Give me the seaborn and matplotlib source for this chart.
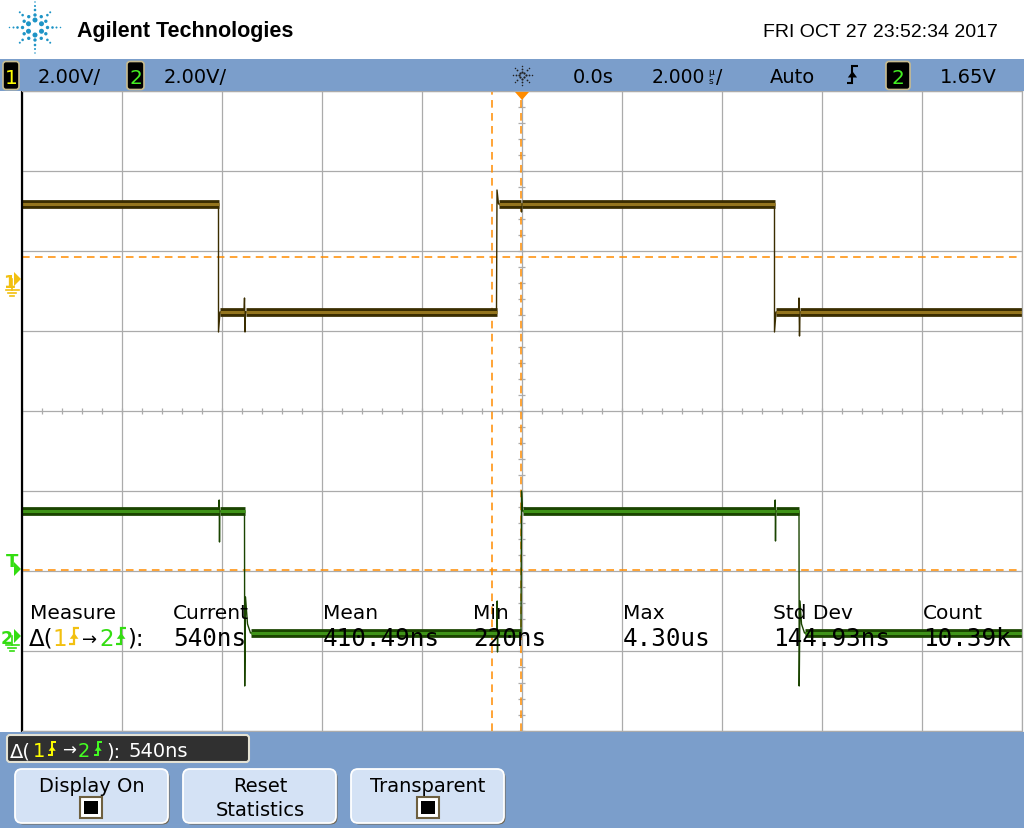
import numpy as np
import pandas as pd
import matplotlib
matplotlib.use("Agg")
import matplotlib.pyplot as plt
from matplotlib.patches import Rectangle, FancyBboxPatch, Polygon
import seaborn as sns

# ---- scope settings ----
volts_per_div = 2.0
us_per_div = 2.0
ch1_ground_div = 1.625      # ground marker of channel 1, in divisions from centre
ch2_ground_div = -2.8125    # ground marker of channel 2
ch1_cursor_v = 0.6          # horizontal cursor on channel 1 (V)
trig_level_v = 1.65         # trigger level on channel 2 (V)
cursor_t = [-0.59, -0.02]   # vertical cursors (us)

# ---- traces: time (us) / volts relative to the channel ground ----
ch1_t = [-10.02, -6.06, -6.06, -6.03, -5.55, -5.54, -5.53, -5.52, -0.50, -0.49, -0.46,
         -0.01, 0.0, 0.01, 5.06, 5.06, 5.09, 5.54, 5.55, 5.56, 5.57, 10.0]
ch1_v = [1.925, 1.925, -1.275, -0.775, -0.775, -0.425, -1.275, -0.775, -0.775, 2.275, 1.925,
         1.925, 1.725, 1.925, 1.925, -1.275, -0.775, -0.775, -0.425, -1.375, -0.775, -0.775]

ch2_t = [-10.02, -6.05, -6.046, -6.04, -6.034, -5.54, -5.536, -5.52, -5.48, -5.42, -0.49,
         -0.486, -0.48, -0.474, -0.01, 0.0, 0.02, 5.07, 5.074, 5.08, 5.086, 5.55, 5.554,
         5.57, 5.60, 5.66, 10.0]
ch2_v = [3.125, 3.125, 3.4, 2.35, 3.125, 3.125, -1.25, 0.975, 0.3, 0.075, 0.075,
         0.875, -0.4, 0.075, 0.075, 3.625, 3.125, 3.125, 3.4, 2.375, 3.125, 3.125, -1.25,
         0.875, 0.3, 0.075, 0.075]

# ---- measurement readout ----
meas_labels = ["Measure", "Current", "Mean", "Min", "Max", "Std Dev", "Count"]
meas_values = ["540ns", "410.49ns", "220ns", "4.30us", "144.93ns", "10.39k"]
meas_x = [30, 173, 323, 473, 623, 773, 923]

W, H = 1024, 829
BAR = '#7b9ecb'
YEL = '#f2c010'
GRN = '#33dd11'
ORANGE = '#ff8c00'

fig = plt.figure(figsize=(W / 100, H / 100), dpi=100)
fig.patch.set_facecolor('white')

# ---- main screen ----
x0, x1, y0, y1 = 21.5, 1021.5, 92, 732
ax = fig.add_axes([x0 / W, 1 - y1 / H, (x1 - x0) / W, (y1 - y0) / H])
ax.set_xlim(-5 * us_per_div, 5 * us_per_div)
ax.set_ylim(-4, 4)
ax.set_xticks(np.arange(-10, 10.01, us_per_div))
ax.set_yticks(np.arange(-4, 4.01, 1))
ax.grid(True, color='#ababab', lw=0.9)
ax.set_axisbelow(True)
ax.tick_params(length=0, labelbottom=False, labelleft=False)
for s in ['top', 'right', 'bottom']:
    ax.spines[s].set_color('#ababab')
    ax.spines[s].set_linewidth(0.9)
ax.spines['left'].set_color('black')
ax.spines['left'].set_linewidth(1.6)

# centre-line minor ticks
mt = np.arange(-10, 10.01, us_per_div / 5)
ax.vlines(mt, -0.035, 0.035, color='#ababab', lw=0.9)
mv = np.arange(-4, 4.01, 0.2)
ax.hlines(mv, -0.07, 0.07, color='#ababab', lw=0.9)

# cursors
for ct in cursor_t:
    ax.axvline(ct, color=ORANGE, lw=1.1, dashes=(5, 3.5))
ax.axhline(ch1_ground_div + ch1_cursor_v / volts_per_div, color=ORANGE, lw=1.1, dashes=(5, 3.5))
ax.axhline(ch2_ground_div + trig_level_v / volts_per_div, color=ORANGE, lw=1.1, dashes=(5, 3.5))


def trace_frame(t, v, ground):
    return pd.DataFrame({'t': t, 'y': ground + np.asarray(v) / volts_per_div})


def band_frame(df):
    rows = []
    seg = 0
    for i in range(len(df) - 1):
        if df.y[i] == df.y[i + 1] and df.t[i + 1] - df.t[i] > 0.2:
            rows += [(seg, df.t[i], df.y[i]), (seg, df.t[i + 1], df.y[i + 1])]
            seg += 1
    return pd.DataFrame(rows, columns=['seg', 't', 'y'])


for t, v, g, dark, light in [(ch1_t, ch1_v, ch1_ground_div, '#3a2d00', '#94751e'),
                             (ch2_t, ch2_v, ch2_ground_div, '#1a4400', '#3f9418')]:
    df = trace_frame(t, v, g)
    sns.lineplot(data=df, x='t', y='y', sort=False, estimator=None, color=dark,
                 lw=1.0, ax=ax, legend=False)
    bd = band_frame(df)
    sns.lineplot(data=bd, x='t', y='y', units='seg', sort=False, estimator=None,
                 color=dark, lw=6.3, solid_capstyle='butt', ax=ax, legend=False)
    sns.lineplot(data=bd, x='t', y='y', units='seg', sort=False, estimator=None,
                 color=light, lw=2.2, solid_capstyle='butt', ax=ax, legend=False)
ax.set_xlabel('')
ax.set_ylabel('')

# ---- overlay in pixel coordinates ----
ov = fig.add_axes([0, 0, 1, 1])
ov.set_xlim(0, W)
ov.set_ylim(H, 0)
ov.axis('off')


def txt(x, y, s, size=14, color='black', ha='left', va='baseline', family='DejaVu Sans',
        weight='normal', **kw):
    ov.text(x, y, s, fontsize=size, color=color, ha=ha, va=va, family=family,
            fontweight=weight, **kw)


def edge_icon(x, ytop, ybot, color, lw=1.6):
    w = (ybot - ytop) * 0.32
    xm = x + w
    ov.plot([x, xm, xm, xm + w], [ybot, ybot, ytop, ytop], color=color, lw=lw,
            solid_joinstyle='miter', solid_capstyle='butt')
    ym = (ytop + ybot) / 2
    ov.add_patch(Polygon([[xm - w * 0.85, ym + w * 0.55], [xm + w * 0.85, ym + w * 0.55],
                          [xm, ym - w * 0.6]], closed=True, color=color, lw=0))


# logo
cx, cy = 35, 28.5
pts = []
for k in range(6):
    a = np.deg2rad(90 + 60 * k)
    pts.append((cx + 7.5 * np.cos(a), cy - 7.5 * np.sin(a), 5.0))
for k in range(12):
    a = np.deg2rad(30 * k)
    pts.append((cx + 12.5 * np.cos(a), cy - 12.5 * np.sin(a), 3.4))
for k in range(8):
    a = np.deg2rad(45 * k)
    radii = [17.5, 21.5, 25.5] if k % 2 == 0 else [17.5, 21.5]
    for r, d in zip(radii, [2.6, 2.0, 1.5]):
        pts.append((cx + r * np.cos(a), cy - r * np.sin(a), d))
pts = np.array(pts)
ov.scatter(pts[:, 0], pts[:, 1], s=(pts[:, 2] * 0.72) ** 2, color='#1e94c6', lw=0)
txt(77, 37, 'Agilent Technologies', size=15.5, family='Liberation Sans', weight='bold')
txt(998, 37, 'FRI OCT 27 23:52:34 2017', size=14, ha='right', family='Liberation Sans')

# header bar
ov.add_patch(Rectangle((0, 60), W, 32, color=BAR, lw=0))
for bx, bw, label, col in [(3, 16, '1', '#ffff00'), (127, 17, '2', '#44ee22'), (886, 24, '2', '#44ee22')]:
    ov.add_patch(FancyBboxPatch((bx, 62.5), bw, 28, boxstyle='round,pad=0,rounding_size=3',
                                fc='black', ec='#c8bc90', lw=1.2))
    txt(bx + bw / 2, 84, label, size=14.5, color=col, ha='center')
txt(38, 83, '2.00V/')
txt(164, 83, '2.00V/')
# run/stop spark
for k in range(8):
    a = np.deg2rad(45 * k)
    for r, d in [(3.5, 2.2), (6.5, 1.8), (9.5, 1.5)]:
        ov.scatter(522 + r * np.cos(a), 76 - r * np.sin(a), s=(d * 0.72) ** 2, color='#222222', lw=0)
txt(573, 83, '0.0s')
txt(652, 83, '2.000', size=13.5)
txt(711, 77, 'µ\ns', size=6.5, ha='center', va='center', linespacing=0.95)
txt(716, 83, '/', size=13.5)
txt(770, 83, 'Auto')
edge_icon(847, 67, 84, 'black', lw=1.5)
txt(940, 83, '1.65V')

# trigger position marker
ov.add_patch(Polygon([[515, 93], [529, 93], [522, 101]], closed=True, color=ORANGE, lw=0))

# left side markers
ov.text(3, 287.5, '1', fontsize=12.5, color=YEL, family='DejaVu Sans', fontweight='bold')
ov.add_patch(Polygon([[14, 273], [14, 287], [21, 280]], closed=True, color=YEL, lw=0))
ov.plot([12, 12], [280, 291], color=YEL, lw=1.2)
for yy, hw in [(291, 6.5), (294, 4), (297, 1.8)]:
    ov.plot([12 - hw, 12 + hw], [yy, yy], color=YEL, lw=1.2)

ov.text(6, 567, 'T', fontsize=13, color=GRN, family='DejaVu Sans', fontweight='bold')
ov.add_patch(Polygon([[14, 563], [14, 577], [21, 570]], closed=True, color=GRN, lw=0))

ov.text(1, 644, '2', fontsize=12.5, color=GRN, family='DejaVu Sans', fontweight='bold')
ov.add_patch(Polygon([[14, 630], [14, 644], [21, 637]], closed=True, color=GRN, lw=0))
ov.plot([12, 12], [637, 646], color=GRN, lw=1.2)
for yy, hw in [(646, 6.5), (649, 4), (652, 1.8)]:
    ov.plot([12 - hw, 12 + hw], [yy, yy], color=GRN, lw=1.2)

# measurement readout
for x, lab in zip(meas_x, meas_labels):
    txt(x, 619, lab, size=14.5)
for x, val in zip(meas_x[1:], meas_values):
    txt(x, 646, val, size=17.5, family='DejaVu Sans Mono')
txt(29, 646, 'Δ(', size=16.5)
txt(52, 646, '1', size=16.5, color=YEL)
edge_icon(69, 629, 645, YEL)
txt(82, 645, '→', size=13)
txt(99, 646, '2', size=16.5, color=GRN)
edge_icon(116, 629, 645, GRN)
txt(127, 646, '):', size=16.5)

# bottom bar
ov.add_patch(Rectangle((0, 733), W, 96, color=BAR, lw=0))
ov.add_patch(FancyBboxPatch((7, 736), 242, 27, boxstyle='round,pad=0,rounding_size=3',
                            fc='#303030', ec='#e4e2d4', lw=1.5))
txt(10, 757, 'Δ(', size=14, color='white')
txt(33, 757, '1', size=14, color='#ffff00')
edge_icon(48, 743, 756, '#ffff00', lw=1.4)
txt(62, 756, '→', size=12, color='white')
txt(78, 757, '2', size=14, color='#44ff22')
edge_icon(94, 743, 756, '#44ff22', lw=1.4)
txt(106, 757, '):', size=14, color='white')
txt(128, 757, '540ns', size=14, color='white')

for bx in [15, 183, 351]:
    ov.add_patch(FancyBboxPatch((bx + 1.5, 771.5), 153, 54, boxstyle='round,pad=0,rounding_size=7',
                                fc='#6f6450', ec='none'))
    ov.add_patch(FancyBboxPatch((bx, 770), 153, 54, boxstyle='round,pad=0,rounding_size=7',
                                fc='#d4e2f5', ec='white', lw=1.3))
txt(91.5, 792, 'Display On', ha='center')
txt(260, 792, 'Reset', ha='center')
txt(260, 816, 'Statistics', ha='center')
txt(428, 792, 'Transparent', ha='center')
for bx in [80, 417]:
    ov.add_patch(Rectangle((bx, 798), 22, 21, fc='white', ec='#6e6040', lw=1.5))
    ov.add_patch(Rectangle((bx + 4, 802), 14, 13, fc='black', lw=0))

fig.savefig('out.png', dpi=100, facecolor='white')
